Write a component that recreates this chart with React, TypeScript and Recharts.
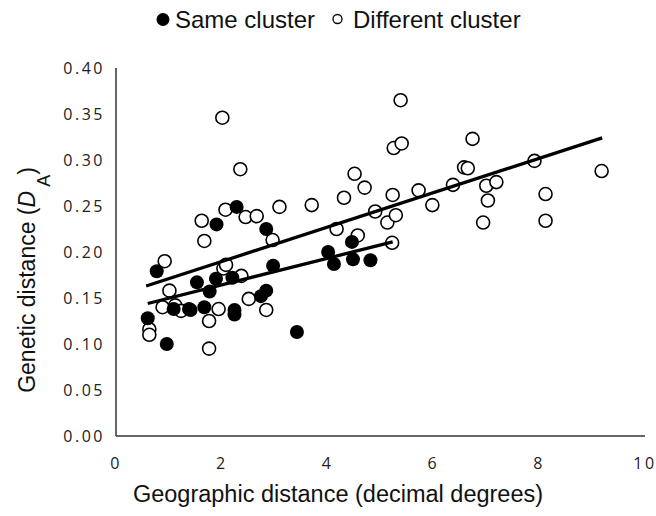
import { ScatterChart, Scatter, XAxis, YAxis } from 'recharts';

// [geographic distance, genetic distance]
const sameCluster: [number, number][] = [
  [0.6, 0.128], [0.96, 0.1], [0.77, 0.179], [1.09, 0.138], [1.38, 0.138], [1.41, 0.137],
  [1.53, 0.167], [1.67, 0.14], [1.77, 0.157], [1.89, 0.171], [1.9, 0.23], [2.2, 0.172],
  [2.24, 0.137], [2.24, 0.132], [2.28, 0.249], [2.74, 0.152], [2.84, 0.158], [2.84, 0.225],
  [2.97, 0.185], [3.42, 0.113], [4.01, 0.2], [4.12, 0.187], [4.46, 0.211], [4.48, 0.192],
  [4.81, 0.191],
];

const differentCluster: [number, number][] = [
  [0.63, 0.116], [0.63, 0.11], [0.88, 0.14], [0.92, 0.19], [1.01, 0.158], [1.12, 0.142],
  [1.23, 0.136], [1.62, 0.234], [1.67, 0.212], [1.76, 0.125], [1.76, 0.095], [1.94, 0.138],
  [2.01, 0.346], [2.03, 0.182], [2.07, 0.246], [2.08, 0.186], [2.35, 0.29], [2.37, 0.174],
  [2.45, 0.238], [2.51, 0.149], [2.66, 0.239], [2.84, 0.137], [2.96, 0.213], [3.09, 0.249],
  [3.7, 0.251], [4.17, 0.225], [4.31, 0.259], [4.51, 0.285], [4.57, 0.218], [4.7, 0.27],
  [4.9, 0.244], [5.13, 0.232], [5.22, 0.21], [5.23, 0.262], [5.25, 0.313], [5.29, 0.24],
  [5.38, 0.365], [5.4, 0.318], [5.72, 0.267], [5.98, 0.251], [6.37, 0.273], [6.58, 0.292],
  [6.65, 0.291], [6.74, 0.323], [6.94, 0.232], [7.0, 0.272], [7.03, 0.256], [7.19, 0.276],
  [7.91, 0.299], [8.12, 0.263], [8.12, 0.234], [9.18, 0.288],
];

// regression line end points
const sameFit: [number, number][] = [[0.6, 0.144], [5.23, 0.211]];
const differentFit: [number, number][] = [[0.57, 0.163], [9.19, 0.324]];

const xTicks = [0, 2, 4, 6, 8, 10];
const yTicks = [0, 0.05, 0.1, 0.15, 0.2, 0.25, 0.3, 0.35, 0.4];

const toPoints = (arr: [number, number][]) => arr.map(([x, y]) => ({ x, y }));

const titleFont = '"Liberation Sans", Arial, sans-serif';
const tickStyle = { fontFamily: '"Open Sans", sans-serif', fontSize: 16, fill: '#222', letterSpacing: 2.5 };

const FilledDot = (props: any) => <circle cx={props.cx} cy={props.cy} r={7} fill="#000" />;
const OpenDot = (props: any) => (
  <circle cx={props.cx} cy={props.cy} r={6.5} fill="#fff" stroke="#000" strokeWidth={1.6} />
);
const NoDot = () => <g />;

const renderYTitle = () => (
  <text
    x={35}
    y={280}
    transform="rotate(-90, 35, 280)"
    textAnchor="middle"
    fontFamily={titleFont}
    fontSize={23}
    fill="#111"
  >
    Genetic distance (<tspan fontStyle="italic">D</tspan>
    <tspan fontSize={18} dy={15} dx={4}>A</tspan>
    <tspan dy={-15}>)</tspan>
  </text>
);

const renderXTitle = () => (
  <text x={338} y={502} textAnchor="middle" fontFamily={titleFont} fontSize={23.5} fill="#111">
    Geographic distance (decimal degrees)
  </text>
);

export default function App() {
  return (
    <div style={{ position: 'absolute', left: 0, top: 0, width: 656, height: 516, background: '#fff' }}>
      <svg
        width={656}
        height={40}
        style={{ position: 'absolute', left: 0, top: 0 }}
        fontFamily={titleFont}
      >
        <circle cx={163} cy={19.5} r={6.5} fill="#000" />
        <text x={175} y={28} fontSize={24} fill="#111">Same cluster</text>
        <circle cx={337.5} cy={19} r={4.5} fill="#fff" stroke="#000" strokeWidth={1.3} />
        <text x={353} y={28} fontSize={24} fill="#111">Different cluster</text>
      </svg>
      <ScatterChart width={656} height={516} margin={{ top: 68, right: 11, bottom: 20, left: 16 }}>
        <XAxis
          type="number"
          dataKey="x"
          domain={[0, 10]}
          ticks={xTicks}
          tickLine={false}
          tickSize={0}
          tickMargin={22}
          height={60}
          axisLine={{ stroke: '#333', strokeWidth: 1.5 }}
          tick={tickStyle}
          label={{ content: renderXTitle }}
        />
        <YAxis
          type="number"
          dataKey="y"
          domain={[0, 0.4]}
          ticks={yTicks}
          tickFormatter={(v: number) => v.toFixed(2)}
          tickLine={false}
          tickSize={0}
          tickMargin={11}
          width={100}
          axisLine={{ stroke: '#333', strokeWidth: 1.5 }}
          tick={tickStyle}
          label={{ content: renderYTitle }}
        />
        <Scatter
          name="Different cluster"
          data={toPoints(differentCluster)}
          shape={OpenDot}
          isAnimationActive={false}
        />
        <Scatter
          name="Same cluster"
          data={toPoints(sameCluster)}
          shape={FilledDot}
          isAnimationActive={false}
        />
        <Scatter
          data={toPoints(differentFit)}
          line={{ stroke: '#000', strokeWidth: 3.3 }}
          shape={NoDot}
          legendType="none"
          isAnimationActive={false}
        />
        <Scatter
          data={toPoints(sameFit)}
          line={{ stroke: '#000', strokeWidth: 3.3 }}
          shape={NoDot}
          legendType="none"
          isAnimationActive={false}
        />
      </ScatterChart>
    </div>
  );
}
